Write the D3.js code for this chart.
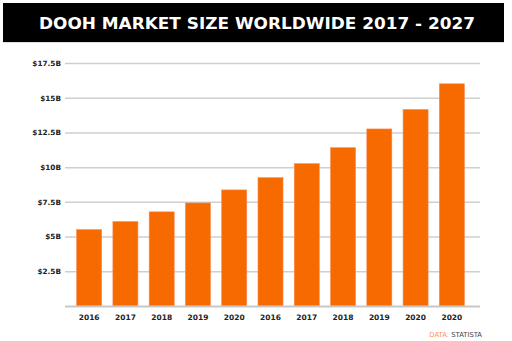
<!DOCTYPE html>
<html><head><meta charset="utf-8">
<script src="https://cdn.jsdelivr.net/npm/d3@7"></script>
<style>html,body{margin:0;padding:0;background:#fff;}svg{display:block;}</style>
</head><body>
<svg id="c" width="512" height="341"></svg>
<script>
const categories = ["2016","2017","2018","2019","2020","2016","2017","2018","2019","2020","2020"];
const values = [5.5, 6.08, 6.78, 7.42, 8.36, 9.24, 10.25, 11.4, 12.75, 14.15, 16.0];
const yTicks = [2.5, 5, 7.5, 10, 12.5, 15, 17.5];
const yTickLabels = ["$2.5B","$5B","$7.5B","$10B","$12.5B","$15B","$17.5B"];
const title = "DOOH MARKET SIZE WORLDWIDE 2017 - 2027";

const svg = d3.select("#c");
const font = "'DejaVu Sans', sans-serif";

// title bar
svg.append("rect").attr("x",3).attr("y",3).attr("width",501).attr("height",39).attr("fill","#000");
svg.append("line").attr("x1",3).attr("x2",504).attr("y1",42.5).attr("y2",42.5).attr("stroke","#ddd").attr("stroke-width",1);
svg.append("text").attr("x",257).attr("y",28.5).attr("text-anchor","middle")
  .attr("fill","#fff").attr("font-family",font).attr("font-weight","bold").attr("font-size",16.5)
  .attr("textLength",436).attr("lengthAdjust","spacingAndGlyphs").text(title);

const y = d3.scaleLinear().domain([0,17.5]).range([306,63]);
const x = d3.scaleBand().domain(d3.range(categories.length)).range([71,470]).paddingInner(0.31).paddingOuter(0.155);

// gridlines
const yAxis = d3.axisLeft(y).tickValues(yTicks).tickFormat((d,i)=>yTickLabels[i]).tickSize(-415).tickPadding(5);
const gy = svg.append("g").attr("transform","translate(65,0)").call(yAxis);
gy.select(".domain").remove();
gy.selectAll(".tick line").attr("stroke","#cfcfcf").attr("stroke-width",1.5).attr("x1",0);
gy.selectAll(".tick text").attr("font-family",font).attr("font-weight","bold").attr("font-size",7.3).attr("fill","#222").attr("x",-4);

// bars
svg.append("g").selectAll("rect").data(values).join("rect")
  .attr("x",(d,i)=>x(i)).attr("width",x.bandwidth())
  .attr("y",d=>y(d)).attr("height",d=>y(0)-y(d))
  .attr("fill","#f76a00").attr("stroke","#fb8a50").attr("stroke-width",0.6);

// baseline
svg.append("line").attr("x1",65).attr("x2",480).attr("y1",306.5).attr("y2",306.5).attr("stroke","#c8c8c8").attr("stroke-width",2);

// x axis labels
const xAxis = d3.axisBottom(x).tickFormat(i=>categories[i]).tickSize(0).tickPadding(8);
const gx = svg.append("g").attr("transform","translate(0,307)").call(xAxis);
gx.select(".domain").remove();
gx.selectAll(".tick text").attr("font-family",font).attr("font-weight","bold").attr("font-size",7.5).attr("fill","#222");

// source
const src = svg.append("text").attr("x",482).attr("y",336.5).attr("text-anchor","end").attr("font-family",font).attr("font-size",6.8);
src.append("tspan").attr("fill","#f7955f").text("DATA: ");
src.append("tspan").attr("fill","#444").text("STATISTA");
</script>
</body></html>
